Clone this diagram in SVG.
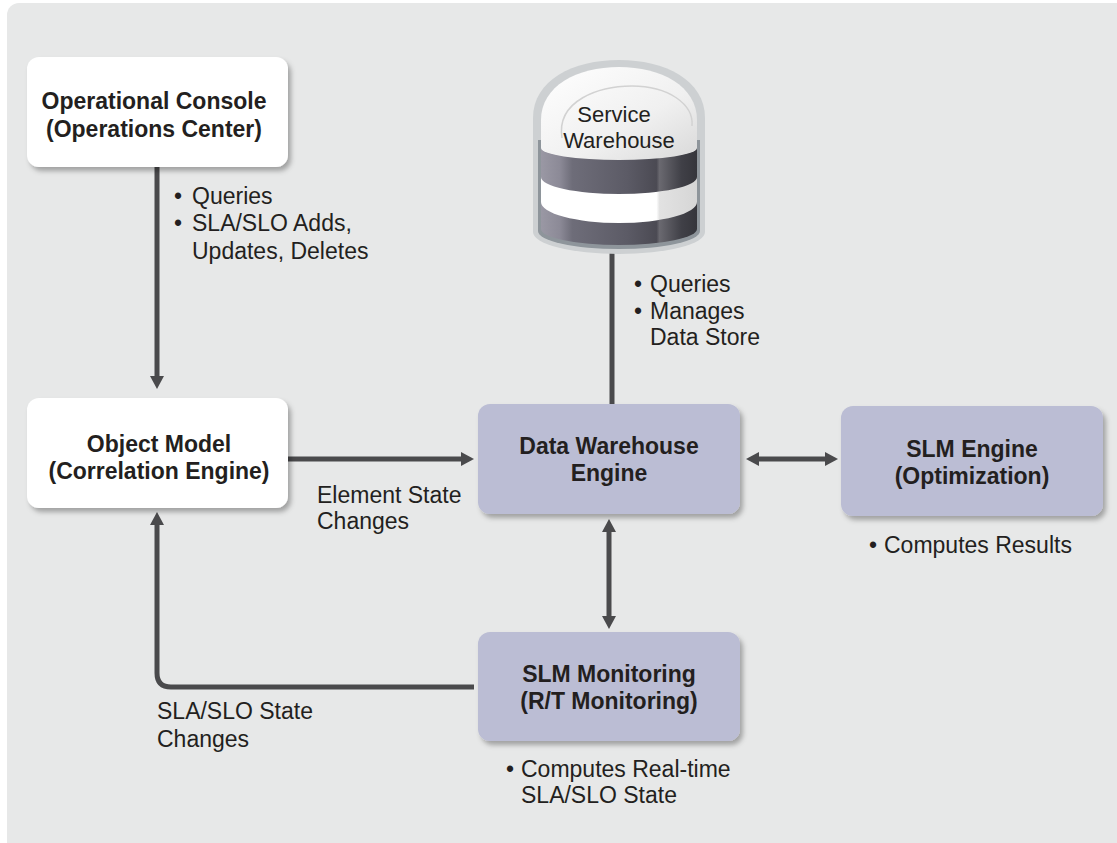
<svg xmlns="http://www.w3.org/2000/svg" width="1117" height="843" viewBox="0 0 1117 843">
<style>
.bt{font-family:"Liberation Sans",Arial,sans-serif;font-weight:bold;font-size:23px;fill:#231f20;text-anchor:middle}
.lb{font-family:"Liberation Sans",Arial,sans-serif;font-size:23px;fill:#231f20}
.wb{fill:#ffffff}
.pb{fill:#bbbdd4}
.cn{stroke:#4a4a4c;stroke-width:5;fill:none}
</style>
<defs>
<filter id="sh" x="-10%" y="-10%" width="125%" height="135%">
<feDropShadow dx="3" dy="4" stdDeviation="2.5" flood-color="#000" flood-opacity="0.3"/>
</filter>
<marker id="ah" markerUnits="userSpaceOnUse" markerWidth="13" markerHeight="14" refX="0" refY="7" orient="auto-start-reverse" viewBox="0 0 13 14">
<path d="M0,0 L13,7 L0,14 Z" fill="#4a4a4c"/>
</marker>
<linearGradient id="body" x1="0" y1="0" x2="1" y2="0">
<stop offset="0" stop-color="#9a98a4"/>
<stop offset="0.12" stop-color="#8c8a97"/>
<stop offset="0.2" stop-color="#6e6d79"/>
<stop offset="0.55" stop-color="#5c5b66"/>
<stop offset="0.74" stop-color="#4b4a53"/>
<stop offset="0.76" stop-color="#6a6970"/>
<stop offset="0.9" stop-color="#404047"/>
<stop offset="1" stop-color="#35353b"/>
</linearGradient>
<linearGradient id="band" x1="0" y1="0" x2="1" y2="0">
<stop offset="0" stop-color="#ffffff"/>
<stop offset="0.74" stop-color="#ffffff"/>
<stop offset="0.76" stop-color="#e2e2e2"/>
<stop offset="1" stop-color="#d6d6d6"/>
</linearGradient>
<linearGradient id="cap" x1="0" y1="0" x2="1" y2="1">
<stop offset="0" stop-color="#ffffff"/>
<stop offset="0.6" stop-color="#f0f0f0"/>
<stop offset="1" stop-color="#d9d9d9"/>
</linearGradient>
</defs>
<rect x="0" y="0" width="1117" height="843" fill="#ffffff"/>
<rect x="7" y="3" width="1125" height="855" rx="12" fill="#e7e8e8"/>

<g id="connectors">
<line class="cn" x1="157" y1="167" x2="157" y2="376" marker-end="url(#ah)"/>
<line class="cn" x1="288" y1="459" x2="461" y2="459" marker-end="url(#ah)"/>
<line class="cn" x1="759" y1="459" x2="825" y2="459" marker-start="url(#ah)" marker-end="url(#ah)"/>
<line class="cn" x1="609" y1="532" x2="609" y2="616" marker-start="url(#ah)" marker-end="url(#ah)"/>
<path class="cn" d="M474,687 H171 Q157,687 157,673 V525" marker-end="url(#ah)"/>
<line class="cn" x1="612" y1="245" x2="612" y2="404"/>
</g>

<g id="service-warehouse">
<path d="M533,232 L533,118 C533,80 573,60 619,60 C665,60 705,80 705,118 L705,232 A86,22 0 0 1 533,232 Z" fill="#cdd0d2"/>
<path d="M538,140 L538,231 A81,18 0 0 0 700,231 L700,140 Z" fill="#8e959b"/>
<path d="M541,140 L541,229 A78,16 0 0 0 697,229 L697,140 Z" fill="url(#body)"/>
<path d="M541,177 A78,17 0 0 0 697,177 L697,202 A78,21 0 0 1 541,202 Z" fill="url(#band)"/>
<path d="M541,148 L541,120 C541,86 577,67 619,67 C661,67 697,86 697,120 L697,148 A78,12 0 0 1 541,148 Z" fill="url(#cap)"/>
<path d="M562,138 C556,100 600,86 632,86 C668,86 694,104 692,126" fill="none" stroke="#d2d2d2" stroke-width="1.5"/>
<text class="lb" x="614" y="122" text-anchor="middle" style="font-size:22px">Service</text>
<text class="lb" x="619" y="148" text-anchor="middle" style="font-size:22px">Warehouse</text>
</g>

<g id="operational-console">
<rect class="wb" x="27" y="57" width="261" height="110" rx="12" filter="url(#sh)"/>
<text class="bt" x="154" y="109">Operational Console</text>
<text class="bt" x="154" y="137">(Operations Center)</text>
</g>

<g id="object-model">
<rect class="wb" x="27" y="398" width="261" height="110" rx="12" filter="url(#sh)"/>
<text class="bt" x="159" y="452">Object Model</text>
<text class="bt" x="159" y="479">(Correlation Engine)</text>
</g>

<g id="data-warehouse-engine">
<rect class="pb" x="478" y="404" width="262" height="110" rx="12" filter="url(#sh)"/>
<text class="bt" x="609" y="454">Data Warehouse</text>
<text class="bt" x="609" y="481">Engine</text>
</g>

<g id="slm-engine">
<rect class="pb" x="841" y="406" width="262" height="110" rx="12" filter="url(#sh)"/>
<text class="bt" x="972" y="457">SLM Engine</text>
<text class="bt" x="972" y="484">(Optimization)</text>
</g>

<g id="slm-monitoring">
<rect class="pb" x="478" y="632" width="262" height="109" rx="12" filter="url(#sh)"/>
<text class="bt" x="609" y="682">SLM Monitoring</text>
<text class="bt" x="609" y="709">(R/T Monitoring)</text>
</g>

<g id="labels">
<text class="lb" x="174" y="204">•</text>
<text class="lb" x="192" y="204">Queries</text>
<text class="lb" x="174" y="231">•</text>
<text class="lb" x="192" y="231">SLA/SLO Adds,</text>
<text class="lb" x="192" y="259">Updates, Deletes</text>

<text class="lb" x="634" y="292">•</text>
<text class="lb" x="650" y="292">Queries</text>
<text class="lb" x="634" y="319">•</text>
<text class="lb" x="650" y="319">Manages</text>
<text class="lb" x="650" y="345">Data Store</text>

<text class="lb" x="317" y="503">Element State</text>
<text class="lb" x="317" y="529">Changes</text>

<text class="lb" x="869" y="553">•</text>
<text class="lb" x="884" y="553">Computes Results</text>

<text class="lb" x="157" y="719">SLA/SLO State</text>
<text class="lb" x="157" y="747">Changes</text>

<text class="lb" x="506" y="777">•</text>
<text class="lb" x="521" y="777">Computes Real-time</text>
<text class="lb" x="521" y="803">SLA/SLO State</text>
</g>
</svg>
